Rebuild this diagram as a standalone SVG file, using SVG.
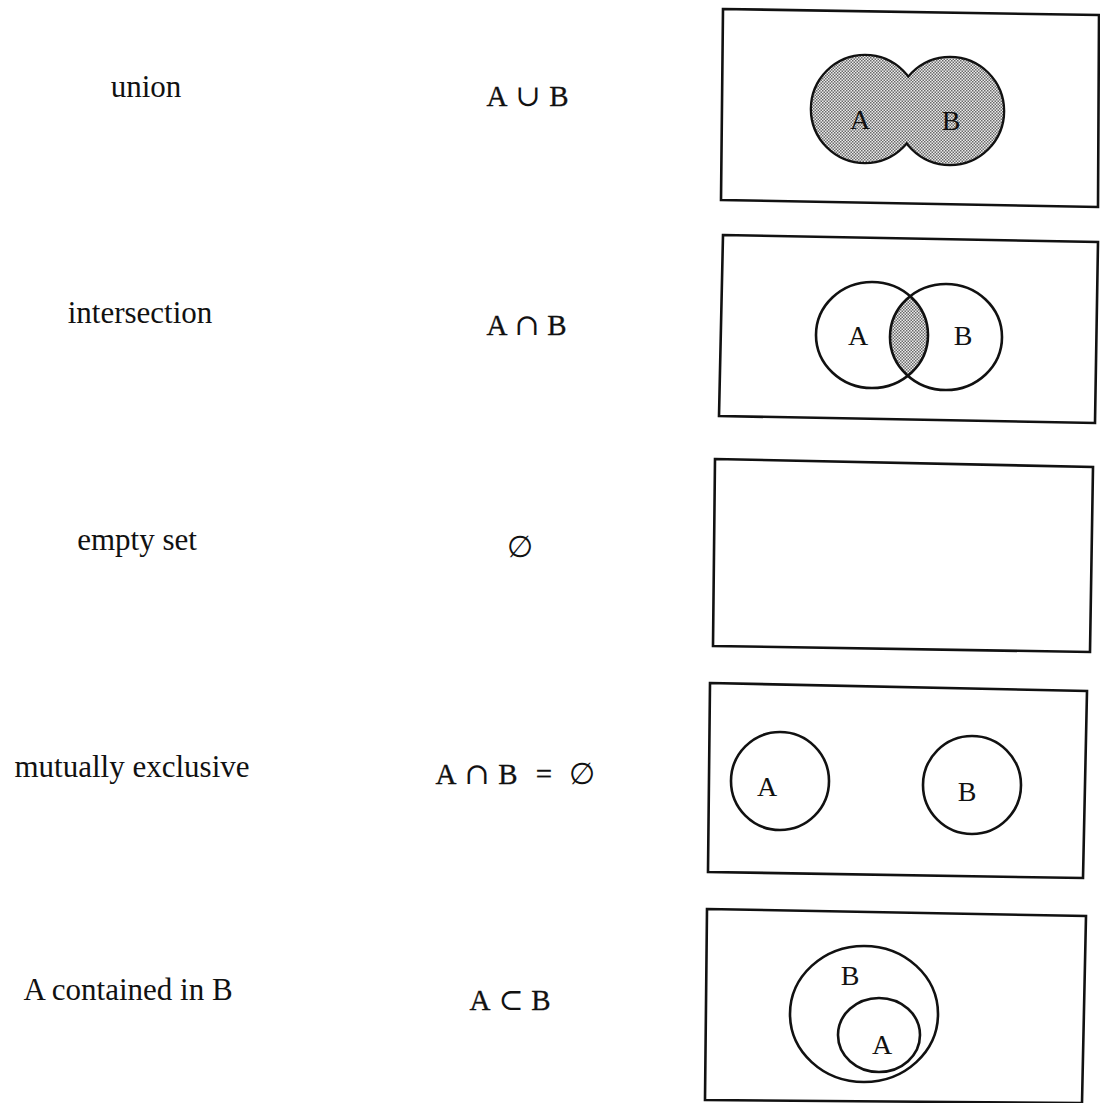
<svg xmlns="http://www.w3.org/2000/svg" width="1100" height="1103" viewBox="0 0 1100 1103">
  <style>
    .bg { fill: #ffffff; }
    .frame { fill: none; stroke: #111; stroke-width: 2.6; stroke-linejoin: miter; }
    .ring { fill: none; stroke: #111; stroke-width: 2.6; }
    .label { font-family: "Liberation Serif", "DejaVu Serif", serif; font-size: 31px; fill: #111; text-anchor: middle; }
    .sym { font-family: "Liberation Serif", "DejaVu Serif", serif; font-size: 29px; fill: #111; text-anchor: middle; stroke: #111; stroke-width: 0.3; }
    .op { font-family: "DejaVu Serif", "Liberation Serif", serif; font-size: 30px; fill: #111; text-anchor: middle; }
    .setname { font-family: "Liberation Serif", "DejaVu Serif", serif; font-size: 28px; fill: #111; text-anchor: middle; }
  </style>
  <defs>
    <!-- fine checker stipple used for shaded regions -->
    <pattern id="stipple" patternUnits="userSpaceOnUse" width="3" height="3">
      <rect width="3" height="3" fill="#ececec"/>
      <rect x="0" y="0" width="1.5" height="1.5" fill="#6a6a6a"/>
      <rect x="1.5" y="1.5" width="1.5" height="1.5" fill="#6a6a6a"/>
    </pattern>
    <clipPath id="clipA2">
      <ellipse cx="872" cy="335" rx="56" ry="53"/>
    </clipPath>
  </defs>

  <rect class="bg" x="0" y="0" width="1100" height="1103"/>

  <!-- row 1: union -->
  <g id="row-union">
    <text class="label" x="146" y="97">union</text>
    <text class="sym" x="497" y="106">A</text>
    <text class="op" x="528" y="106">∪</text>
    <text class="sym" x="559" y="106">B</text>
    <polygon class="frame" points="723,9 1099,15 1098,207 721,200"/>
    <g id="venn-union">
      <circle cx="865" cy="109" r="53" fill="none" stroke="#111" stroke-width="4.6"/>
      <circle cx="950" cy="111" r="53" fill="none" stroke="#111" stroke-width="4.6"/>
      <circle cx="865" cy="109" r="53" fill="url(#stipple)"/>
      <circle cx="950" cy="111" r="53" fill="url(#stipple)"/>
      <text class="setname" x="860" y="129">A</text>
      <text class="setname" x="951" y="130">B</text>
    </g>
  </g>

  <!-- row 2: intersection -->
  <g id="row-intersection">
    <text class="label" x="140" y="323">intersection</text>
    <text class="sym" x="497" y="335">A</text>
    <text class="op" x="527" y="335">∩</text>
    <text class="sym" x="557" y="335">B</text>
    <polygon class="frame" points="723,235 1098,242 1095,423 719,416"/>
    <g id="venn-intersection">
      <ellipse cx="946" cy="337" rx="56" ry="53" fill="url(#stipple)" clip-path="url(#clipA2)"/>
      <ellipse class="ring" cx="872" cy="335" rx="56" ry="53"/>
      <ellipse class="ring" cx="946" cy="337" rx="56" ry="53"/>
      <text class="setname" x="858" y="345">A</text>
      <text class="setname" x="963" y="345">B</text>
    </g>
  </g>

  <!-- row 3: empty set -->
  <g id="row-empty">
    <text class="label" x="137" y="550">empty set</text>
    <text class="op" x="520" y="557">∅</text>
    <polygon class="frame" points="715,459 1093,467 1090,652 713,646"/>
  </g>

  <!-- row 4: mutually exclusive -->
  <g id="row-exclusive">
    <text class="label" x="132" y="777">mutually exclusive</text>
    <text class="sym" x="446" y="784">A</text>
    <text class="op" x="477" y="784">∩</text>
    <text class="sym" x="508" y="784">B</text>
    <text class="sym" x="544" y="784">=</text>
    <text class="op" x="582" y="784">∅</text>
    <polygon class="frame" points="710,683 1087,691 1083,878 708,872"/>
    <g id="venn-exclusive">
      <circle class="ring" cx="780" cy="781" r="49"/>
      <circle class="ring" cx="972" cy="785" r="49"/>
      <text class="setname" x="767" y="796">A</text>
      <text class="setname" x="967" y="801">B</text>
    </g>
  </g>

  <!-- row 5: A contained in B -->
  <g id="row-subset">
    <text class="label" x="128" y="1000">A contained in B</text>
    <text class="sym" x="480" y="1010">A</text>
    <text class="op" x="511" y="1010">⊂</text>
    <text class="sym" x="541" y="1010">B</text>
    <polygon class="frame" points="707,909 1086,916 1082,1103 705,1100"/>
    <g id="venn-subset">
      <ellipse class="ring" cx="864" cy="1014" rx="74" ry="68"/>
      <ellipse class="ring" cx="879" cy="1035" rx="41" ry="37"/>
      <text class="setname" x="850" y="985">B</text>
      <text class="setname" x="882" y="1054">A</text>
    </g>
  </g>
</svg>
